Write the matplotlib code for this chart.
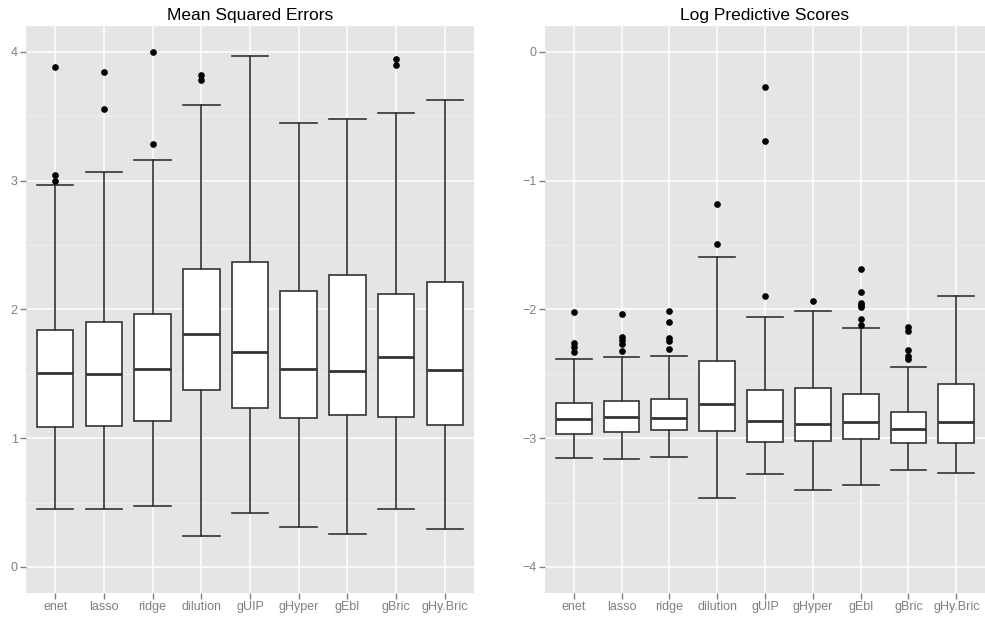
import matplotlib
matplotlib.use("Agg")
import matplotlib.pyplot as plt
from matplotlib.ticker import MultipleLocator

plt.rcParams["font.family"] = ["Liberation Sans", "DejaVu Sans"]

methods = ["enet", "lasso", "ridge", "dilution", "gUIP", "gHyper", "gEbl", "gBric", "gHy.Bric"]

# Mean squared errors: lower whisker, Q1, median, Q3, upper whisker, outliers
mse_whislo = [0.453, 0.448, 0.477, 0.241, 0.422, 0.308, 0.256, 0.446, 0.295]
mse_q1 = [1.085, 1.093, 1.132, 1.370, 1.233, 1.155, 1.178, 1.163, 1.103]
mse_med = [1.507, 1.497, 1.533, 1.810, 1.665, 1.533, 1.525, 1.631, 1.530]
mse_q3 = [1.841, 1.898, 1.965, 2.310, 2.367, 2.141, 2.268, 2.123, 2.209]
mse_whishi = [2.962, 3.066, 3.156, 3.586, 3.969, 3.444, 3.475, 3.524, 3.625]
mse_out = [
    [3.881, 3.040, 2.996],
    [3.842, 3.555],
    [3.995, 3.281],
    [3.822, 3.778],
    [],
    [],
    [],
    [3.941, 3.899],
    [],
]

# Log predictive scores
lps_whislo = [-3.156, -3.163, -3.145, -3.466, -3.282, -3.402, -3.360, -3.244, -3.267]
lps_q1 = [-2.969, -2.951, -2.938, -2.946, -3.029, -3.026, -3.006, -3.039, -3.037]
lps_med = [-2.850, -2.835, -2.843, -2.736, -2.868, -2.892, -2.871, -2.930, -2.874]
lps_q3 = [-2.726, -2.713, -2.697, -2.400, -2.625, -2.610, -2.661, -2.796, -2.579]
lps_whishi = [-2.382, -2.369, -2.366, -1.595, -2.061, -2.012, -2.144, -2.447, -1.895]
lps_out = [
    [-2.024, -2.260, -2.296, -2.335],
    [-2.037, -2.214, -2.240, -2.270, -2.322],
    [-2.009, -2.102, -2.221, -2.244, -2.304],
    [-1.180, -1.491],
    [-0.272, -0.694, -1.897],
    [-1.939],
    [-1.683, -1.866, -1.952, -1.968, -1.985, -2.078, -2.125],
    [-2.136, -2.165, -2.312, -2.364, -2.389],
    [],
]


def make_stats(whislo, q1, med, q3, whishi, out):
    return [
        dict(whislo=a, q1=b, med=c, q3=d, whishi=e, fliers=f, label=m)
        for a, b, c, d, e, f, m in zip(whislo, q1, med, q3, whishi, out, methods)
    ]


def draw_panel(ax, stats, title, ylim, yticks):
    ax.set_facecolor("#E5E5E5")
    for s in ax.spines.values():
        s.set_visible(False)
    ax.set_axisbelow(True)
    ax.yaxis.set_major_locator(MultipleLocator(1))
    ax.yaxis.set_minor_locator(MultipleLocator(0.5))
    ax.grid(True, which="major", color="white", linewidth=1.1)
    ax.grid(True, which="minor", axis="y", color="#F2F2F2", linewidth=0.5)

    ax.bxp(
        stats,
        positions=range(1, len(stats) + 1),
        widths=0.75,
        capwidths=0.75,
        patch_artist=True,
        boxprops=dict(facecolor="white", edgecolor="#333333", linewidth=1.2),
        medianprops=dict(color="#333333", linewidth=2.0),
        whiskerprops=dict(color="#333333", linewidth=1.2),
        capprops=dict(color="#333333", linewidth=1.2),
        flierprops=dict(marker="o", markerfacecolor="black", markeredgecolor="black", markersize=3.8),
    )

    ax.set_xlim(0.4, len(stats) + 0.6)
    ax.set_ylim(*ylim)
    ax.set_yticks(yticks)
    ax.set_xticks(range(1, len(stats) + 1))
    ax.set_xticklabels(methods)
    ax.tick_params(axis="both", which="major", colors="#7F7F7F", length=4, width=1,
                   labelsize=9, labelcolor="#7F7F7F", pad=2)
    ax.tick_params(axis="y", which="minor", length=0)
    ax.set_title(title, fontsize=12.5, color="black", pad=4)


fig = plt.figure(figsize=(9.85, 6.18), dpi=100)
bottom = (618 - 592.7) / 618
height = 566.7 / 618
ax1 = fig.add_axes([26 / 985, bottom, 448 / 985, height])
ax2 = fig.add_axes([545 / 985, bottom, 440 / 985, height])

draw_panel(ax1, make_stats(mse_whislo, mse_q1, mse_med, mse_q3, mse_whishi, mse_out),
           "Mean Squared Errors", (-0.2, 4.2), [0, 1, 2, 3, 4])
draw_panel(ax2, make_stats(lps_whislo, lps_q1, lps_med, lps_q3, lps_whishi, lps_out),
           "Log Predictive Scores", (-4.2, 0.2), [-4, -3, -2, -1, 0])

fig.savefig("out.png", dpi=100)
